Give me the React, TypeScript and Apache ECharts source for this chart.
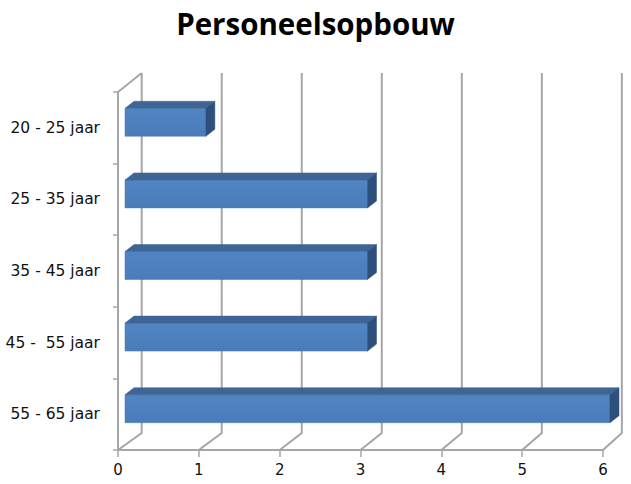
import React, { useEffect, useRef } from "react";
import * as echarts from "echarts";

const categories = ["20 - 25 jaar", "25 - 35 jaar", "35 - 45 jaar", "45 -  55 jaar", "55 - 65 jaar"];
const values = [1, 3, 3, 3, 6];
const gridTicks = [0, 1, 2, 3, 4, 5, 6];

const WALL = "#A6A6A6";
const DX = 23.7; // depth offset of back wall
const DY = -17;
const BACK_TOP = 73;
const LABEL_FONT = "DejaVu Sans";

export default function App() {
  const ref = useRef<HTMLDivElement>(null);
  useEffect(() => {
    if (!ref.current) return;
    const chart = echarts.init(ref.current, undefined, { renderer: "svg" });
    chart.setOption({
      animation: false,
      backgroundColor: "#ffffff",
      title: {
        text: "Personeelsopbouw",
        left: "center",
        top: 3,
        textStyle: { fontFamily: "Open Sans", fontWeight: "bold", fontSize: 29.5, color: "#000" },
      },
      grid: { left: 118, top: 92, width: 485, height: 358, containLabel: false },
      xAxis: {
        type: "value",
        min: 0,
        max: 6,
        interval: 1,
        axisLine: { show: true, lineStyle: { color: WALL, width: 2 } },
        axisTick: { show: true, length: 7, lineStyle: { color: WALL, width: 1.5 } },
        axisLabel: { color: "#111", fontFamily: LABEL_FONT, fontSize: 15, margin: 12 },
        splitLine: { show: false },
      },
      yAxis: {
        type: "category",
        data: categories,
        inverse: true,
        axisLine: { show: true, lineStyle: { color: WALL, width: 2 } },
        axisTick: { show: true, length: 5, lineStyle: { color: WALL, width: 1.5 } },
        axisLabel: { color: "#111", fontFamily: LABEL_FONT, fontSize: 15.5, margin: 18 },
      },
      series: [
        {
          type: "custom",
          silent: true,
          z: 1,
          data: gridTicks.map((k) => [k, 0]),
          encode: { x: 0, y: 1 },
          renderItem: (params: any, api: any) => {
            const cs = params.coordSys;
            const k = api.value(0);
            const p = api.coord([k, 0]);
            const fx = p[0];
            const bottom = cs.y + cs.height;
            const bx = cs.x + DX + (fx - cs.x) * 0.99;
            const children: any[] = [
              {
                type: "polyline",
                shape: { points: [[fx, bottom], [bx, bottom + DY], [bx, BACK_TOP]] },
                style: { stroke: WALL, lineWidth: 2, fill: null },
              },
            ];
            if (k === 0) {
              children.push({
                type: "line",
                shape: { x1: cs.x, y1: cs.y, x2: bx, y2: BACK_TOP },
                style: { stroke: WALL, lineWidth: 2 },
              });
            }
            return { type: "group", children };
          },
        },
        {
          type: "custom",
          silent: true,
          z: 5,
          data: values.map((v, i) => [v, i]),
          encode: { x: 0, y: 1 },
          renderItem: (params: any, api: any) => {
            const v = api.value(0);
            const idx = api.value(1);
            const p0 = api.coord([0, idx]);
            const p1 = api.coord([v, idx]);
            const c = p0[1];
            const x0 = p0[0] + 7;
            const x1 = p1[0] + 7;
            const top = c - 19.5;
            const h = 28;
            const dx = 9;
            const dy = -7;
            return {
              type: "group",
              children: [
                {
                  type: "rect",
                  shape: { x: x0, y: top, width: x1 - x0, height: h },
                  style: {
                    fill: new echarts.graphic.LinearGradient(0, 0, 0, 1, [
                      { offset: 0, color: "#5085C3" },
                      { offset: 1, color: "#4A7CB9" },
                    ]),
                    stroke: "#4A7AB5",
                    lineWidth: 0.5,
                  },
                },
                {
                  type: "polygon",
                  shape: { points: [[x0, top], [x0 + dx, top + dy], [x1 + dx, top + dy], [x1, top]] },
                  style: { fill: "#3F6595", stroke: "#3F6595", lineWidth: 0.5 },
                },
                {
                  type: "polygon",
                  shape: { points: [[x1, top], [x1 + dx, top + dy], [x1 + dx, top + dy + h], [x1, top + h]] },
                  style: { fill: "#2F4F7B", stroke: "#2F4F7B", lineWidth: 0.5 },
                },
              ],
            };
          },
        },
      ],
    });
    return () => chart.dispose();
  }, []);
  return (
    <div
      ref={ref}
      style={{ position: "fixed", left: 0, top: 0, width: 631, height: 484, background: "#fff" }}
    />
  );
}
